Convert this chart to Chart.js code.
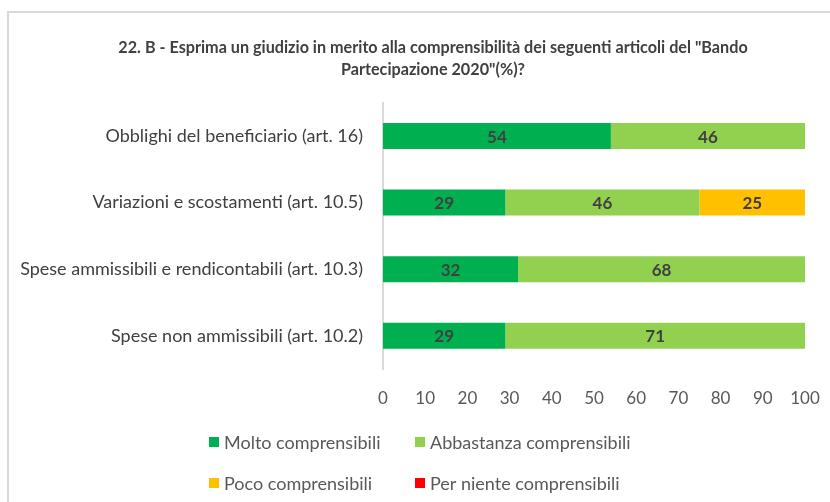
<!DOCTYPE html>
<html>
<head>
<meta charset="utf-8">
<script src="https://cdn.jsdelivr.net/npm/chart.js@4.4.1/dist/chart.umd.min.js"></script>
<style>
  html, body { margin: 0; padding: 0; background: #fff; }
  #wrap { position: relative; width: 830px; height: 502px; overflow: hidden; }
  #frame { position: absolute; left: 7px; top: 11px; width: 830px; height: 500px; border-top: 2px solid #d9d9d9; border-left: 2px solid #d9d9d9; }
  canvas { position: absolute; left: 0; top: 0; }
</style>
</head>
<body>
<div id="wrap">
  <div id="frame"></div>
  <canvas id="chart" width="830" height="502"></canvas>
</div>
<script>
// dati (%)
const categories = [
    'Obblighi del beneficiario (art. 16)',
    'Variazioni e scostamenti (art. 10.5)',
    'Spese ammissibili e rendicontabili (art. 10.3)',
    'Spese non ammissibili (art. 10.2)'
];
const molto = [54, 29, 32, 29];
const abbastanza = [46, 46, 68, 71];
const poco = [0, 25, 0, 0];
const perNiente = [0, 0, 0, 0];
const seriesNames = ['Molto comprensibili', 'Abbastanza comprensibili', 'Poco comprensibili', 'Per niente comprensibili'];
const seriesColors = ['#00B050', '#92D050', '#FFC000', '#FF0000'];
const xTicks = [0, 10, 20, 30, 40, 50, 60, 70, 80, 90, 100];

const FONT = 'Lato';

// il titolo nell'originale è centrato un po' più a destra
const titleShift = {
    id: 'titleShift',
    beforeDraw(chart) {
        if (chart.titleBlock) chart.titleBlock.left = 61;
    }
};

// etichette dentro le barre
const barLabels = {
    id: 'barLabels',
    afterDatasetsDraw(chart) {
        const ctx = chart.ctx;
        ctx.save();
        ctx.font = 'bold 17px ' + FONT;
        ctx.fillStyle = '#404040';
        ctx.textAlign = 'center';
        ctx.textBaseline = 'middle';
        chart.data.datasets.forEach((ds, i) => {
            chart.getDatasetMeta(i).data.forEach((bar, j) => {
                const v = ds.data[j];
                if (!v) return;
                const p = bar.getProps(['x', 'y', 'base'], true);
                ctx.fillText(v, (p.x + p.base) / 2, p.y + 1);
            });
        });
        ctx.restore();
    }
};

// legenda su due colonne
const gridLegend = {
    id: 'gridLegend',
    afterDraw(chart) {
        const ctx = chart.ctx;
        const cols = [209, 415];
        const rows = [442, 483];
        ctx.save();
        ctx.font = '18px ' + FONT;
        ctx.textBaseline = 'middle';
        ctx.textAlign = 'left';
        chart.data.datasets.forEach((ds, i) => {
            const x = cols[i % 2];
            const y = rows[Math.floor(i / 2)];
            ctx.fillStyle = ds.backgroundColor;
            ctx.fillRect(x, y - 5, 10, 10);
            ctx.fillStyle = '#595959';
            ctx.fillText(ds.label, x + 15, y + 1);
        });
        ctx.restore();
    }
};

const series = [molto, abbastanza, poco, perNiente];

new Chart(document.getElementById('chart'), {
    type: 'bar',
    data: {
        labels: categories,
        datasets: series.map((d, i) => ({
            label: seriesNames[i],
            data: d,
            backgroundColor: seriesColors[i],
            borderWidth: 0,
            categoryPercentage: 1,
            barPercentage: 0.39
        }))
    },
    options: {
        responsive: false,
        animation: false,
        indexAxis: 'y',
        layout: { padding: { top: 0, right: 25, bottom: 0, left: 0 } },
        plugins: {
            legend: { display: false },
            tooltip: { enabled: false },
            title: {
                display: true,
                text: ['22. B - Esprima un giudizio in merito alla comprensibilità dei seguenti articoli del "Bando', 'Partecipazione 2020"(%)?'],
                color: '#404040',
                font: { family: FONT, size: 16.2, weight: 'bold', lineHeight: 1.35 },
                padding: { top: 37, bottom: 22 }
            }
        },
        scales: {
            x: {
                stacked: true,
                min: 0,
                max: 100,
                afterBuildTicks: (scale) => { scale.ticks = xTicks.map(v => ({ value: v })); },
                afterFit: (scale) => { scale.height = 133; scale.paddingLeft = 0; scale.paddingRight = 0; },
                grid: { display: false, drawTicks: false },
                border: { display: false },
                ticks: { color: '#595959', font: { family: FONT, size: 17 }, padding: 19, maxRotation: 0 }
            },
            y: {
                stacked: true,
                afterFit: (scale) => { scale.width = 383; },
                grid: { display: false, drawTicks: false },
                border: { display: true, color: '#d9d9d9', width: 2 },
                ticks: { color: '#404040', font: { family: FONT, size: 18 }, padding: 20 }
            }
        }
    },
    plugins: [titleShift, barLabels, gridLegend]
});
</script>
</body>
</html>
